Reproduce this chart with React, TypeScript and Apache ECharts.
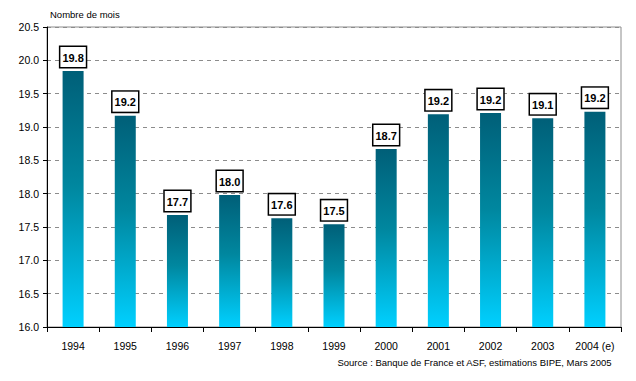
import React, { useEffect, useRef } from "react";
import * as echarts from "echarts";

const categories = ["1994", "1995", "1996", "1997", "1998", "1999", "2000", "2001", "2002", "2003", "2004 (e)"];
const values = [19.84, 19.17, 17.68, 17.98, 17.63, 17.54, 18.67, 19.19, 19.21, 19.13, 19.23];
const yTicks = [16.0, 16.5, 17.0, 17.5, 18.0, 18.5, 19.0, 19.5, 20.0, 20.5];

const FONT = "'Liberation Sans', Arial, sans-serif";

export default function App() {
  const ref = useRef<HTMLDivElement>(null);
  useEffect(() => {
    const chart = echarts.init(ref.current!, null, { renderer: "svg" });
    chart.setOption({
      animation: false,
      backgroundColor: "#ffffff",
      grid: {
        left: 47,
        right: 15,
        top: 27,
        bottom: 54,
        show: true,
        borderColor: "#8c8c8c",
        borderWidth: 1,
      },
      graphic: [
        {
          type: "text",
          left: 50,
          top: 9,
          style: { text: "Nombre de mois", font: `9.5px ${FONT}`, fill: "#000" },
        },
        {
          type: "text",
          right: 24,
          top: 357,
          style: {
            text: "Source : Banque de France et ASF, estimations BIPE, Mars 2005",
            font: `9.5px ${FONT}`,
            fill: "#000",
          },
        },
      ],
      xAxis: {
        type: "category",
        data: categories,
        boundaryGap: true,
        axisLine: { show: true, lineStyle: { color: "#000", width: 1 } },
        axisTick: { show: true, alignWithLabel: false, interval: 0, length: 5, lineStyle: { color: "#000" } },
        axisLabel: { color: "#000", fontSize: 10.5, fontFamily: FONT, margin: 13, interval: 0 },
        splitLine: { show: false },
      },
      yAxis: {
        type: "value",
        min: yTicks[0],
        max: yTicks[yTicks.length - 1],
        interval: 0.5,
        axisLine: { show: true, lineStyle: { color: "#000", width: 1 } },
        axisTick: { show: true, length: 4, lineStyle: { color: "#000" } },
        axisLabel: {
          color: "#000",
          fontSize: 10.5,
          fontFamily: FONT,
          margin: 8,
          formatter: (v: number) => v.toFixed(1),
        },
        splitLine: { show: true, lineStyle: { color: "#8c8c8c", type: [4, 4], width: 1 } },
      },
      series: [
        {
          type: "bar",
          data: values,
          barWidth: 21,
          itemStyle: {
            color: new echarts.graphic.LinearGradient(0, 0, 0, 1, [
              { offset: 0, color: "#005f78" },
              { offset: 0.45, color: "#00879f" },
              { offset: 1, color: "#00d0ff" },
            ]),
          },
          label: {
            show: true,
            position: "top",
            distance: 4,
            formatter: (p: any) => Number(p.value).toFixed(1),
            color: "#000",
            fontSize: 11,
            fontWeight: "bold",
            fontFamily: FONT,
            backgroundColor: "#fff",
            borderColor: "#000",
            borderWidth: 1.5,
            padding: [5, 2, 4, 2],
          },
        },
      ],
    });
    return () => chart.dispose();
  }, []);
  return <div ref={ref} style={{ width: 636, height: 381, position: "absolute", left: 0, top: 0 }} />;
}
